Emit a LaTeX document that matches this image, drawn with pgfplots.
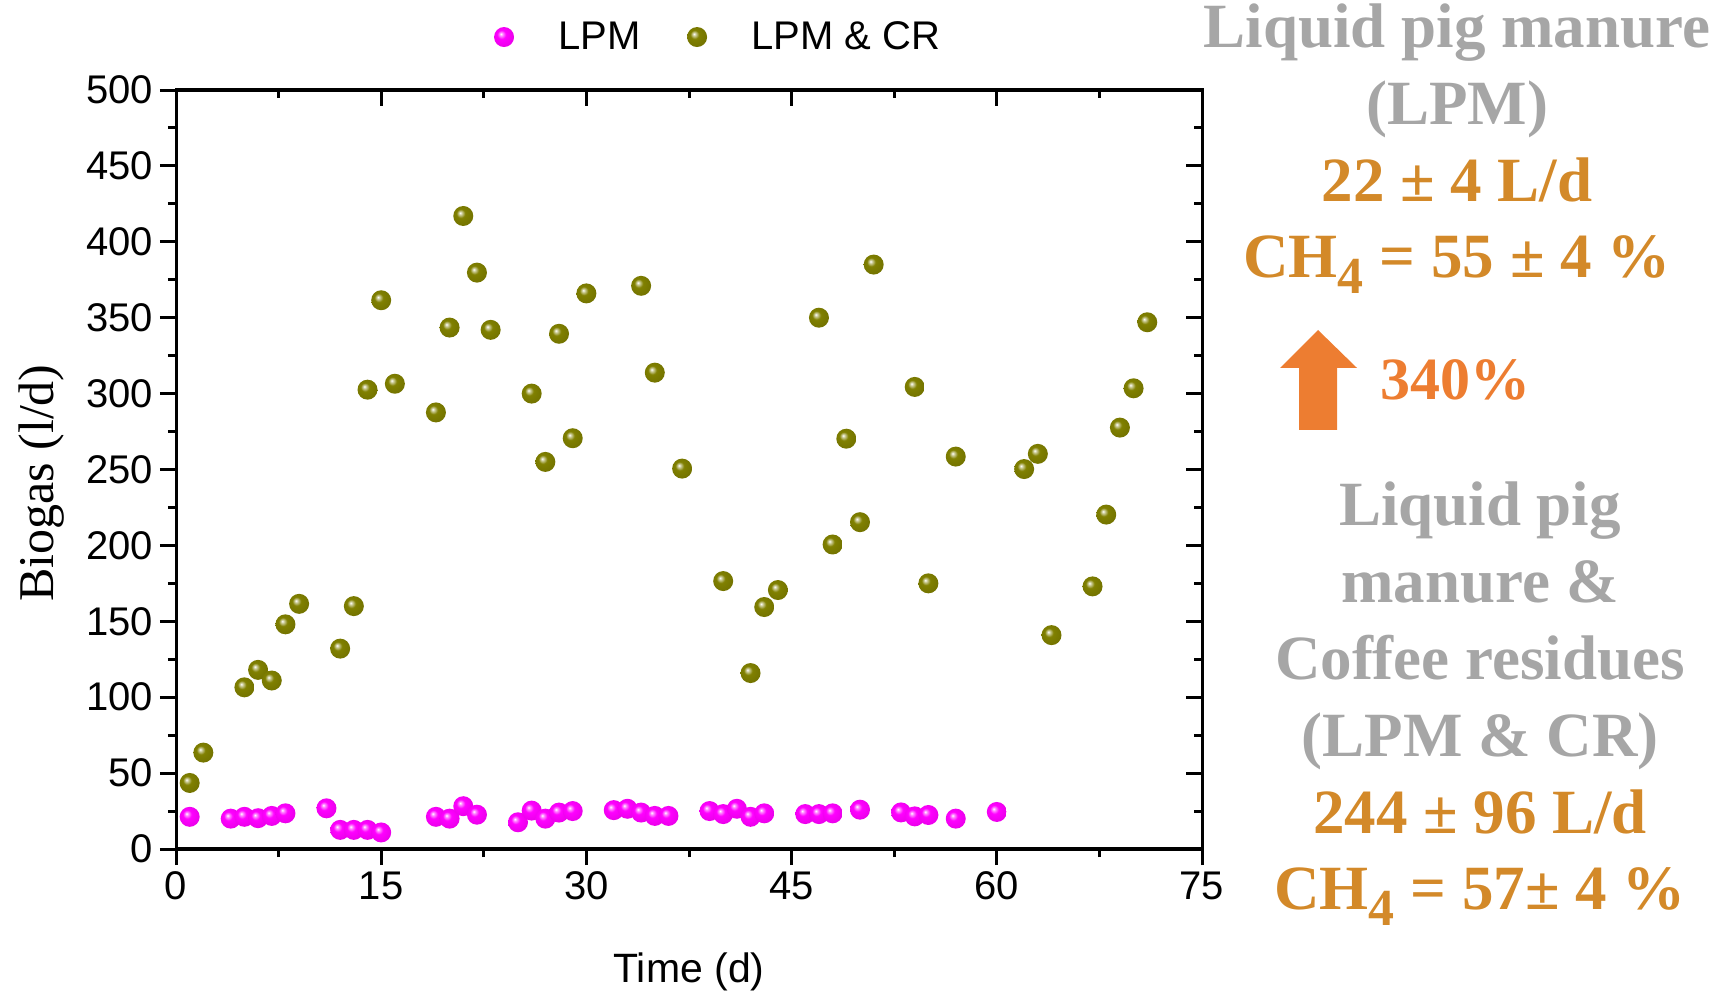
\documentclass[border=0pt]{standalone}
\usepackage{pgfplots}
\pgfplotsset{compat=1.18}
\usepackage{fontspec}
\setmainfont{Liberation Sans}
\newfontfamily\annfont{Liberation Serif}
\definecolor{lpm}{RGB}{255,0,255}
\definecolor{cr}{RGB}{128,128,0}
\definecolor{anngray}{RGB}{166,166,166}
\definecolor{annorange}{RGB}{211,137,41}
\definecolor{arroworange}{RGB}{237,125,49}
\pgfdeclareradialshading{lpmball}{\pgfpoint{-8bp}{8bp}}{color(0bp)=(white); color(4bp)=(lpm!45!white); color(11bp)=(lpm); color(32bp)=(lpm!90!black); color(50bp)=(lpm!70!black)}
\pgfdeclareradialshading{crball}{\pgfpoint{-8bp}{8bp}}{color(0bp)=(white); color(4bp)=(cr!40!white); color(11bp)=(cr); color(32bp)=(cr!88!black); color(50bp)=(cr!65!black)}
\pgfdeclareplotmark{lpmball}{\pgfpathcircle{\pgfpointorigin}{\pgfplotmarksize}\pgfshadepath{lpmball}{0}\pgfusepath{}}
\pgfdeclareplotmark{crball}{\pgfpathcircle{\pgfpointorigin}{\pgfplotmarksize}\pgfshadepath{crball}{0}\pgfusepath{}}
\pgfplotsset{ballleg/.style={legend image code/.code={\path (-6pt,0pt) (25pt,0pt); \draw[##1] plot coordinates {(0pt,0pt)};}}}
\begin{document}
\begin{tikzpicture}
\path[use as bounding box] (0,0) rectangle (861pt,497.5pt);
\begin{axis}[
  at={(88pt,73pt)}, anchor=south west,
  scale only axis, width=513pt, height=379.5pt,
  xmin=0, xmax=75, ymin=0, ymax=500,
  xtick={0,15,...,75}, ytick={0,50,...,500},
  minor x tick num=1, minor y tick num=1,
  xtick pos=bottom, ytick pos=left,
  tick align=outside,
  major tick length=8pt, minor tick length=4pt,
  axis line style={line width=1.5pt},
  every tick/.style={line width=1.5pt, black},
  tick label style={font=\fontsize{20}{24}\selectfont},
  /pgf/number format/assume math mode=true,
  xlabel={Time (d)},
  xlabel style={font=\fontsize{20.5}{24}\selectfont, at={(axis description cs:0.5,-0.162)}, anchor=center},
  ylabel={Biogas (l/d)},
  ylabel style={font=\annfont\fontsize{25}{28}\selectfont, at={(axis description cs:-0.1306,0.482)}, anchor=center},
  legend columns=2,
  legend style={at={(axis description cs:0.5283,1.0698)}, anchor=center, draw=none, fill=none,
    font=\fontsize{20}{24}\selectfont, /tikz/every even column/.append style={column sep=20pt},
    nodes={inner sep=2pt}},
]
\addplot[only marks, mark=lpmball, mark size=5pt, ballleg]
coordinates {(1,21.2)(4,20)(5,21.2)(6,20.3)(7,21.8)(8,23.5)(11,26.8)(12,12.6)(13,12.6)(14,12.6)(15,10.9)(19,21.2)(20,20)(21,28.2)(22,22.6)(25,17.6)(26,25.3)(27,20)(28,24)(29,25)(32,25.6)(33,26.5)(34,24)(35,21.8)(36,21.8)(39,25)(40,23)(41,26.5)(42,21.2)(43,23.5)(46,23)(47,23)(48,23.5)(50,25.9)(53,24.1)(54,21.5)(55,22.4)(57,20)(60,24.4)};
\addlegendentry{LPM}
\addplot[only marks, mark=crball, mark size=5pt, ballleg]
coordinates {(1,43.5)(2,63.5)(5,106.5)(6,118)(7,111)(8,148)(9,161.5)(12,132)(13,160)(14,302.6)(15,361.5)(16,306.5)(19,287.6)(20,343.5)(21,417)(22,379.7)(23,342)(26,300)(27,255)(28,339.4)(29,270.6)(30,366)(34,371)(35,313.8)(37,250.6)(40,176.5)(42,115.9)(43,159.4)(44,170.6)(47,350)(48,200.6)(49,270.3)(50,215.3)(51,385)(54,304.4)(55,175)(57,258.5)(62,250.3)(63,260.3)(64,140.9)(67,173)(68,220.3)(69,277.6)(70,303.5)(71,347)};
\addlegendentry{LPM \& CR}
\end{axis}
\begin{axis}[
  at={(88pt,73pt)}, anchor=south west,
  scale only axis, width=513pt, height=379.5pt,
  xmin=0, xmax=75, ymin=0, ymax=500,
  xtick={0,15,...,75}, ytick={0,50,...,500},
  minor x tick num=1, minor y tick num=1,
  xtick pos=top, ytick pos=right,
  tick align=inside,
  major tick length=8pt, minor tick length=4pt,
  axis line style={line width=1.5pt},
  every tick/.style={line width=1.5pt, black},
  xticklabels={}, yticklabels={},
]
\end{axis}
\begin{scope}[shift={(0pt,497.5pt)}, x=0.5pt, y=-0.5pt]
\tikzset{ann/.style={font=\annfont\bfseries\fontsize{31.5}{36}\selectfont, anchor=base, inner sep=0pt}}
\node[ann, text=anngray] at (1457,48) {Liquid pig manure};
\node[ann, text=anngray] at (1457,125) {(LPM)};
\node[ann, text=annorange] at (1457,202) {22 ± 4 L/d};
\node[ann, text=annorange] at (1457,278) {CH\raisebox{-8pt}{\fontsize{26}{26}\selectfont 4} = 55 ± 4 \%};
\fill[arroworange] (1318,330) -- (1357,368) -- (1337,368) -- (1337,430) -- (1299,430) -- (1299,368) -- (1280,368) -- cycle;
\node[ann, text=arroworange, anchor=base west, font=\annfont\bfseries\fontsize{30}{36}\selectfont] at (1380,400) {340\%};
\node[ann, text=anngray] at (1480,526) {Liquid pig};
\node[ann, text=anngray] at (1480,603) {manure \&};
\node[ann, text=anngray] at (1480,680) {Coffee residues};
\node[ann, text=anngray] at (1480,757) {(LPM \& CR)};
\node[ann, text=annorange] at (1480,834) {244 ± 96 L/d};
\node[ann, text=annorange] at (1480,910) {CH\raisebox{-8pt}{\fontsize{26}{26}\selectfont 4} = 57± 4 \%};
\end{scope}
\end{tikzpicture}
\end{document}
